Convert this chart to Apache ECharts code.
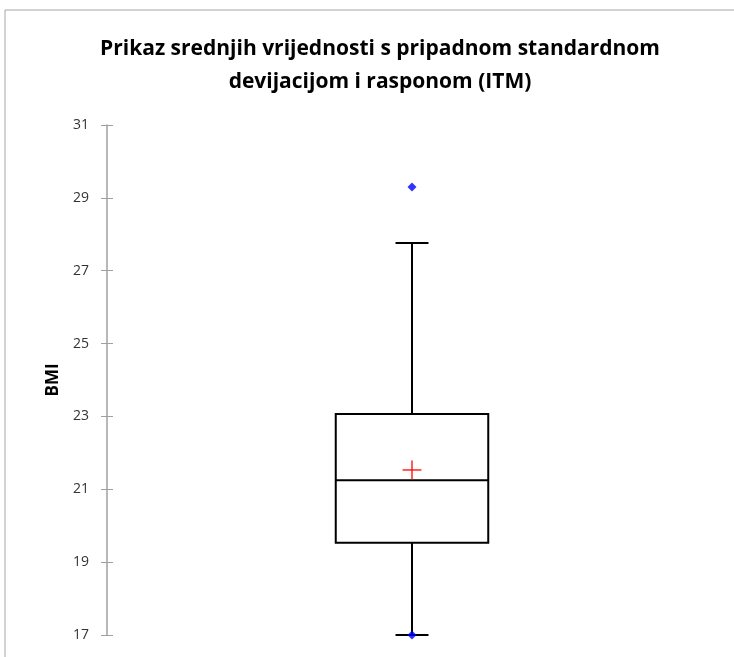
<!DOCTYPE html>
<html>
<head>
<meta charset="utf-8">
<script src="https://cdn.jsdelivr.net/npm/echarts@6/dist/echarts.min.js"></script>
<style>
html,body{margin:0;padding:0;background:#fff;}
#c{width:734px;height:657px;}
</style>
</head>
<body>
<div id="c"></div>
<script>
const categories = ['ITM'];
const lowerWhisker = [17.0];
const q1Values = [19.53];
const medianValues = [21.25];
const q3Values = [23.07];
const upperWhisker = [27.76];
const meanValues = [21.53];
const minPoints = [17.0];
const maxPoints = [29.3];
const yTicks = { min: 17, max: 31, interval: 2 };

const boxData = categories.map((c, i) => [i, lowerWhisker[i], q1Values[i], medianValues[i], q3Values[i], upperWhisker[i], meanValues[i]]);
const pointData = [];
categories.forEach((c, i) => { pointData.push([i, minPoints[i]]); pointData.push([i, maxPoints[i]]); });

const chart = echarts.init(document.getElementById('c'));
const font = '"Open Sans", "DejaVu Sans", sans-serif';

function renderBox(params, api) {
  const x = api.value(0);
  const band = api.size([1, 0])[0];
  const boxW = band * 0.25;
  const capW = band * 0.054;
  const crossW = band * 0.031;
  const pLo = api.coord([x, api.value(1)]);
  const pQ1 = api.coord([x, api.value(2)]);
  const pMed = api.coord([x, api.value(3)]);
  const pQ3 = api.coord([x, api.value(4)]);
  const pHi = api.coord([x, api.value(5)]);
  const pMean = api.coord([x, api.value(6)]);
  const cx = pMed[0];
  const st = { stroke: '#000', lineWidth: 2, fill: null };
  return {
    type: 'group',
    children: [
      { type: 'line', shape: { x1: cx, y1: pQ3[1], x2: cx, y2: pHi[1] }, style: st },
      { type: 'line', shape: { x1: cx, y1: pQ1[1], x2: cx, y2: pLo[1] }, style: st },
      { type: 'line', shape: { x1: cx - capW / 2, y1: pHi[1], x2: cx + capW / 2, y2: pHi[1] }, style: st },
      { type: 'line', shape: { x1: cx - capW / 2, y1: pLo[1], x2: cx + capW / 2, y2: pLo[1] }, style: st },
      { type: 'rect', shape: { x: cx - boxW / 2, y: pQ3[1], width: boxW, height: pQ1[1] - pQ3[1] }, style: { stroke: '#000', lineWidth: 2, fill: 'rgba(0,0,0,0)' } },
      { type: 'line', shape: { x1: cx - boxW / 2, y1: pMed[1], x2: cx + boxW / 2, y2: pMed[1] }, style: st },
      { type: 'line', shape: { x1: cx - crossW / 2, y1: pMean[1], x2: cx + crossW / 2, y2: pMean[1] }, style: { stroke: '#ff0000', lineWidth: 1.3 } },
      { type: 'line', shape: { x1: cx, y1: pMean[1] - crossW / 2, x2: cx, y2: pMean[1] + crossW / 2 }, style: { stroke: '#ff0000', lineWidth: 1.3 } }
    ]
  };
}

chart.setOption({
  animation: false,
  backgroundColor: '#fff',
  graphic: [
    { type: 'rect', shape: { x: 5, y: 10, width: 800, height: 800 }, style: { fill: 'none', stroke: '#a6a6a6', lineWidth: 1 }, silent: true, z: -1 }
  ],
  title: {
    text: 'Prikaz srednjih vrijednosti s pripadnom standardnom\ndevijacijom i rasponom (ITM)',
    left: 375, top: 28, textAlign: 'center',
    textStyle: { fontFamily: font, fontWeight: 'bold', fontSize: 21, color: '#000', lineHeight: 33 }
  },
  grid: { left: 107, right: 17, top: 125, bottom: 22 },
  xAxis: {
    type: 'category', data: categories,
    axisLine: { show: false }, axisTick: { show: false }, axisLabel: { show: false }, splitLine: { show: false }
  },
  yAxis: [
    {
      type: 'value', min: yTicks.min, max: yTicks.max, interval: yTicks.interval,
      name: 'BMI', nameLocation: 'middle', nameGap: 43,
      nameTextStyle: { fontFamily: font, fontWeight: 'bold', fontSize: 17, color: '#000' },
      axisLine: { show: true, lineStyle: { color: '#a0a0a0', width: 1.5 } },
      axisTick: { show: true, length: 6, lineStyle: { color: '#a0a0a0', width: 1 } },
      axisLabel: { fontFamily: font, fontSize: 14, color: '#333', margin: 18 },
      splitLine: { show: false }
    },
    {
      type: 'value', min: yTicks.min, max: yTicks.max, interval: yTicks.interval, position: 'left',
      axisLine: { show: false },
      axisTick: { show: true, inside: true, length: 6, lineStyle: { color: '#a0a0a0', width: 1 } },
      axisLabel: { show: false }, splitLine: { show: false }
    }
  ],
  series: [
    { type: 'custom', renderItem: renderBox, data: boxData, encode: { x: 0, y: [1, 2, 3, 4, 5, 6] }, z: 2 },
    { type: 'scatter', data: pointData, symbol: 'diamond', symbolSize: 9, itemStyle: { color: '#0000ff' }, z: 3 }
  ]
});
</script>
</body>
</html>
